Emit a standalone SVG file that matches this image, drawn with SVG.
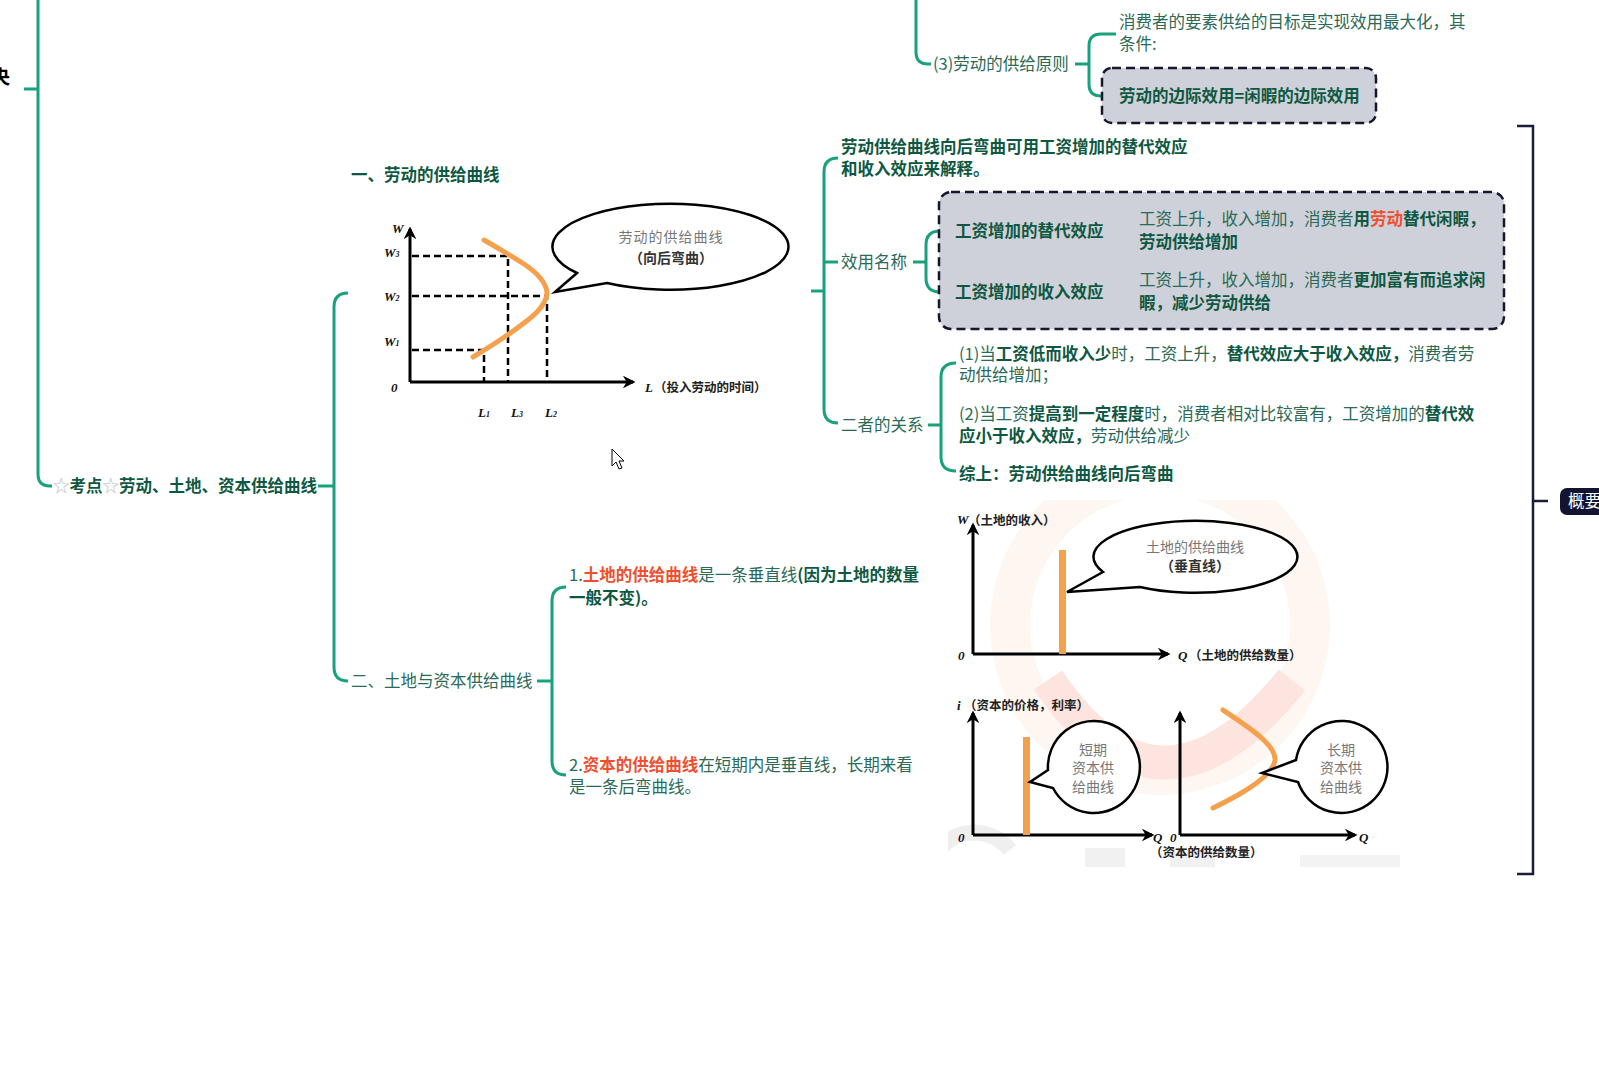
<svg xmlns="http://www.w3.org/2000/svg" width="1599" height="1080" viewBox="0 0 1599 1080">
<style>
.c{fill:none;stroke:#19a07d;stroke-width:3}
.t{font-family:"Noto Sans CJK SC","Liberation Sans",sans-serif;font-size:16.5px;fill:#2b6a57}
.b{font-weight:700;fill:#0e5842}
.r{font-weight:700;fill:#f04f2f}
.box{fill:#ced1d9;stroke:#15172c;stroke-width:2.5;stroke-dasharray:9 5}
.ax2{fill:none;stroke:#000;stroke-width:3;marker-end:url(#ah)}
.dash{fill:none;stroke:#000;stroke-width:2.5;stroke-dasharray:7 4}
.or{fill:none;stroke:#f4a04c;stroke-width:5;stroke-linecap:round}
.bub{fill:#fff;stroke:#000;stroke-width:2.5;stroke-linejoin:miter}
.gl{font-family:"Liberation Serif",serif;font-style:italic;font-weight:700;font-size:13px;fill:#111}
.gc{font-family:"Noto Sans CJK SC",sans-serif;font-weight:700;font-size:12.5px;fill:#222}
.bt{font-family:"Noto Sans CJK SC",sans-serif;font-size:14px;fill:#777;text-anchor:middle}
.bt2{font-family:"Noto Sans CJK SC",sans-serif;font-size:14px;font-weight:700;fill:#333;text-anchor:middle}
</style>
<defs>
<marker id="ah" viewBox="0 0 10 10" refX="8" refY="5" markerWidth="4.2" markerHeight="4.2" orient="auto">
<path d="M0,0 L10,5 L0,10 L3,5 z" fill="#000"/>
</marker>
<clipPath id="wm"><rect x="948" y="500" width="482" height="367"/></clipPath>
</defs>
<rect width="1599" height="1080" fill="#fff"/>

<g id="watermark" clip-path="url(#wm)">
<circle cx="1160" cy="625" r="150" fill="none" stroke="#fef6f0" stroke-width="40"/>
<path d="M1048,680 Q1160,845 1292,680" fill="none" stroke="#fde4df" stroke-width="34"/>
<path d="M930,870 A45,45 0 0 1 1010,850" fill="none" stroke="#efefef" stroke-width="16"/>
<rect x="1085" y="848" width="40" height="25" fill="#f1f1f1"/>
<rect x="1170" y="848" width="45" height="25" fill="#f1f1f1"/>
<rect x="1300" y="855" width="100" height="15" fill="#f3f3f3"/>
</g>

<g id="connectors">
<path class="c" d="M38,0 V474 Q38,486 50,486 H52"/>
<path class="c" d="M24,89 H38"/>
<path class="c" d="M318,486 H334"/>
<path class="c" d="M348,293 Q334,293 334,307 V667 Q334,681 348,681"/>
<path class="c" d="M811,291 H824"/>
<path class="c" d="M838,158 Q824,158 824,172 V409 Q824,423 838,423"/>
<path class="c" d="M824,262 H838"/>
<path class="c" d="M913,262 H926"/>
<path class="c" d="M952,231 H940 Q926,231 926,245 V278 Q926,292 940,292 H952"/>
<path class="c" d="M1110,231 H1135"/>
<path class="c" d="M1110,292 H1135"/>
<path class="c" d="M928,425 H941"/>
<path class="c" d="M956,363 Q941,363 941,377 V457 Q941,471 956,471"/>
<path class="c" d="M916,0 V52 Q916,64 928,64 H931"/>
<path class="c" d="M1075,64 H1089"/>
<path class="c" d="M1116,34 H1101 Q1089,34 1089,46 V84 Q1089,96 1101,96 H1116"/>
<path class="c" d="M537,681 H552"/>
<path class="c" d="M566,587 Q552,587 552,601 V761 Q552,775 566,775"/>
<path d="M1517,126 H1533 V874 H1517 M1533,501 H1548" fill="none" stroke="#1a1c38" stroke-width="2.5"/>
</g>

<g id="root">
<text x="-9" y="84" font-family="Noto Sans CJK SC,sans-serif" font-size="19" font-weight="700" fill="#000">央</text>
</g>

<g id="n-kaodian">
<text class="t" x="53" y="492" font-size="16.2"><tspan fill="#bbb">☆</tspan><tspan class="b">考点</tspan><tspan fill="#bbb">☆</tspan><tspan class="b">劳动、土地、资本供给曲线</tspan></text>
</g>

<g id="n-labor">
<text class="t b" x="351" y="181">一、劳动的供给曲线</text>
<path class="dash" d="M412,256 H508 V382 M412,296 H547 V382 M412,350 H484 V382"/>
<path class="ax2" d="M410,382 V229"/>
<path class="ax2" d="M410,382 H633"/>
<path class="or" d="M473,357 Q505,338 528,320 Q547,305 547,292 Q545,278 524,264 Q505,252 484,240"/>
<text class="gl" x="392" y="233" font-size="12">W</text>
<text class="gl" x="384" y="257" font-size="12">W<tspan font-size="8">3</tspan></text>
<text class="gl" x="384" y="301" font-size="12">W<tspan font-size="8">2</tspan></text>
<text class="gl" x="384" y="346" font-size="12">W<tspan font-size="8">1</tspan></text>
<text class="gl" x="391" y="392">0</text>
<text class="gl" x="478" y="417">L<tspan font-size="8">1</tspan></text>
<text class="gl" x="511" y="417">L<tspan font-size="8">3</tspan></text>
<text class="gl" x="545" y="417">L<tspan font-size="8">2</tspan></text>
<text class="gl" x="645" y="392">L</text>
<text class="gc" x="654" y="392" font-size="13.5">（投入劳动的时间）</text>
<path class="bub" d="M577,273 L555,292 L607,283 A118,43 0 1 0 577,273 Z"/>
<text class="bt" x="671" y="242" font-size="15" letter-spacing="1">劳动的供给曲线</text>
<text class="bt2" x="671" y="263">（向后弯曲）</text>
</g>

<g id="n-explain">
<text class="t b" x="841" y="153">劳动供给曲线向后弯曲可用工资增加的替代效应</text>
<text class="t b" x="841" y="175">和收入效应来解释。</text>
</g>

<g id="n-name">
<text class="t" x="841" y="268">效用名称</text>
</g>

<g id="n-box1">
<rect class="box" x="939" y="192" width="565" height="137" rx="12"/>
<text class="t b" x="955" y="237">工资增加的替代效应</text>
<text class="t b" x="955" y="298">工资增加的收入效应</text>
<text class="t" x="1139" y="225">工资上升，收入增加，消费者<tspan class="b">用</tspan><tspan class="r">劳动</tspan><tspan class="b">替代闲暇，</tspan></text>
<text class="t b" x="1139" y="248">劳动供给增加</text>
<text class="t" x="1139" y="286">工资上升，收入增加，消费者<tspan class="b">更加富有而追求闲</tspan></text>
<text class="t b" x="1139" y="309">暇，减少劳动供给</text>
</g>

<g id="n-relation">
<text class="t" x="841" y="431">二者的关系</text>
<text class="t" x="959" y="360">(1)当<tspan class="b">工资低而收入少</tspan>时，工资上升，<tspan class="b">替代效应大于收入效应，</tspan>消费者劳</text>
<text class="t" x="959" y="381">动供给增加；</text>
<text class="t" x="959" y="420">(2)当工资<tspan class="b">提高到一定程度</tspan>时，消费者相对比较富有，工资增加的<tspan class="b">替代效</tspan></text>
<text class="t" x="959" y="442"><tspan class="b">应小于收入效应，</tspan>劳动供给减少</text>
<text class="t b" x="959" y="480">综上：劳动供给曲线向后弯曲</text>
</g>

<g id="n-principle">
<text class="t" x="933" y="70">(3)劳动的供给原则</text>
<text class="t" x="1119" y="28">消费者的要素供给的目标是实现效用最大化，其</text>
<text class="t" x="1119" y="50">条件:</text>
<rect class="box" x="1102" y="68" width="274" height="55" rx="10"/>
<text class="t b" x="1119" y="102">劳动的边际效用=闲暇的边际效用</text>
</g>

<g id="n-land-capital">
<text class="t" x="351" y="687">二、土地与资本供给曲线</text>
</g>

<g id="n-land">
<text class="t" x="569" y="581">1.<tspan class="r">土地的供给曲线</tspan>是一条垂直线<tspan class="b">(因为土地的数量</tspan></text>
<text class="t b" x="569" y="604">一般不变)。</text>
<path class="ax2" d="M973,654 V525"/>
<path class="ax2" d="M973,654 H1168"/>
<rect x="1059" y="550" width="7" height="104" fill="#f4a04c"/>
<text class="gl" x="957" y="524" font-size="10">W</text>
<text class="gc" x="968" y="525">（土地的收入）</text>
<text class="gl" x="958" y="660" font-size="12">0</text>
<text class="gl" x="1178" y="660" font-size="12">Q</text>
<text class="gc" x="1189" y="660">（土地的供给数量）</text>
<path class="bub" d="M1103,572 L1067,592 L1140,587 A102,36 0 1 0 1103,572 Z"/>
<text class="bt" x="1195" y="552">土地的供给曲线</text>
<text class="bt2" x="1195" y="571" font-size="13">（垂直线）</text>
</g>

<g id="n-capital">
<text class="t" x="569" y="771">2.<tspan class="r">资本的供给曲线</tspan>在短期内是垂直线，长期来看</text>
<text class="t" x="569" y="793">是一条后弯曲线。</text>
<path class="ax2" d="M973,835 V713"/>
<path class="ax2" d="M973,835 H1152"/>
<rect x="1023" y="737" width="7" height="98" fill="#f4a04c"/>
<text class="gl" x="957" y="710" font-size="12">i</text>
<text class="gc" x="964" y="710">（资本的价格，利率）</text>
<text class="gl" x="958" y="842" font-size="12">0</text>
<text class="gl" x="1153" y="842" font-size="12">Q</text>
<path class="bub" d="M1048,770 L1030,782 L1053,788 A46,46 0 1 0 1048,770 Z"/>
<text class="bt" x="1093" y="755">短期</text>
<text class="bt" x="1093" y="773">资本供</text>
<text class="bt" x="1093" y="792">给曲线</text>
<path class="ax2" d="M1180,835 V713"/>
<path class="ax2" d="M1180,835 H1355"/>
<path class="or" d="M1223,710 C1250,728 1276,745 1275,760 C1273,776 1240,795 1213,808"/>
<text class="gl" x="1170" y="842" font-size="12">0</text>
<text class="gl" x="1359" y="842" font-size="12">Q</text>
<path class="bub" d="M1296,760 L1262,773 L1298,782 A46,46 0 1 0 1296,760 Z"/>
<text class="bt" x="1341" y="755">长期</text>
<text class="bt" x="1341" y="773">资本供</text>
<text class="bt" x="1341" y="792">给曲线</text>
<text class="gc" x="1150" y="857">（资本的供给数量）</text>
</g>

<g id="n-summary">
<rect x="1560" y="488" width="60" height="27" rx="7" fill="#131530"/>
<text class="t" x="1568" y="507" style="fill:#fff">概要</text>
</g>

<g id="cursor">
<path d="M612,449 L612,466 L616,462 L619,469 L622,468 L619,461 L624,461 Z" fill="#fff" stroke="#000" stroke-width="1"/>
</g>
</svg>
